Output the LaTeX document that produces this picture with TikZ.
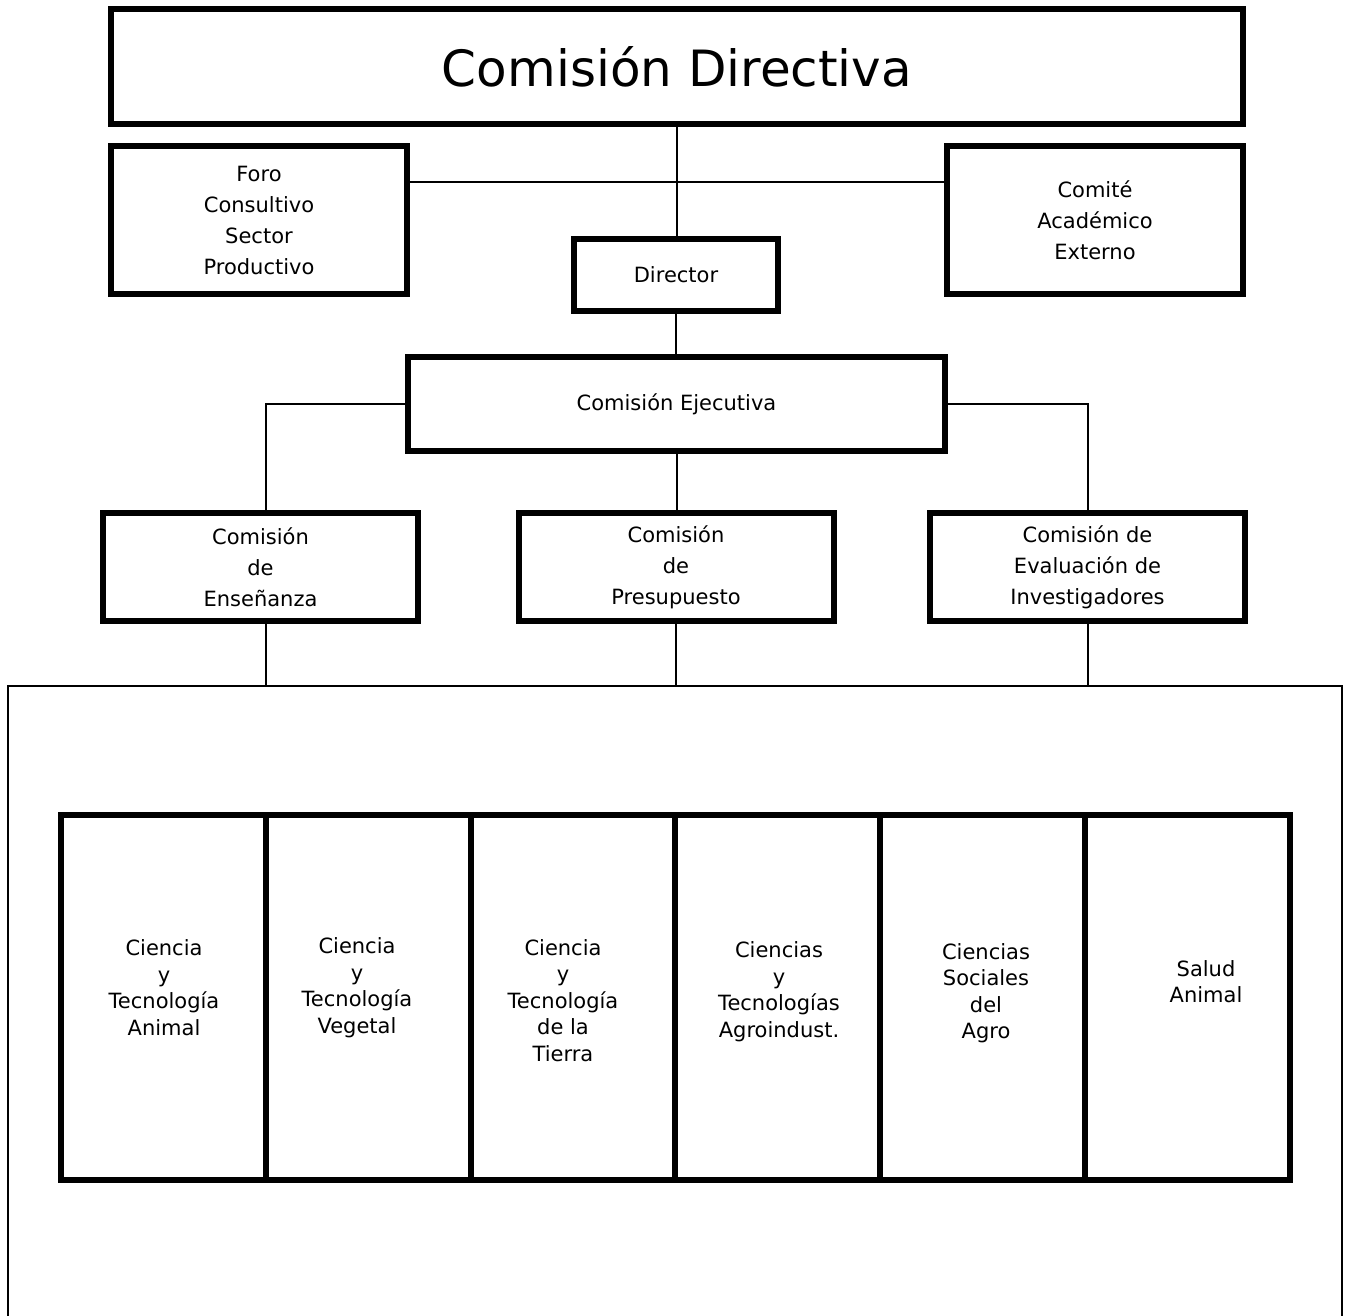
\documentclass[tikz,border=0pt]{standalone}
\usepackage{fontspec}
\setmainfont{DejaVu Sans}
\usepackage{tikz}
\tikzset{
box/.style={draw=black,line width=6pt,inner sep=0pt,align=center,font=\fontsize{21}{31}\selectfont},
conn/.style={black,line width=2pt},
area/.style={inner sep=0pt,align=center,font=\fontsize{21}{26.5}\selectfont}
}
\begin{document}
\begin{tikzpicture}[x=1pt,y=-1pt]
\useasboundingbox (0,0) rectangle (1350,1316);
\node (cd) at (677,66.5) [box][minimum width=1132pt,minimum height=115pt,font=\fontsize{50}{60}\selectfont]{Comisión Directiva};
\node (foro) at (259,220) [box][minimum width=296pt,minimum height=148pt]{Foro\\Consultivo\\Sector\\Productivo};
\node (comite) at (1095,220) [box][minimum width=296pt,minimum height=148pt]{Comité\\Académico\\Externo};
\node (dir) at (676,275) [box][minimum width=204pt,minimum height=72pt]{Director};
\node (ejec) at (676.5,404) [box][minimum width=537pt,minimum height=94pt]{Comisión Ejecutiva};
\node (ens) at (260.5,567) [box][minimum width=315pt,minimum height=108pt]{Comisión\\de\\Enseñanza};
\node (pres) at (676,567) [box][minimum width=315pt,minimum height=108pt]{Comisión\\de\\Presupuesto};
\node (eval) at (1087.5,567) [box][minimum width=315pt,minimum height=108pt]{Comisión de\\Evaluación de\\Investigadores};
\coordinate (frameNW) at (8,686);
\coordinate (frameNE) at (1342,686);
\draw [conn](8,1330)--(frameNW)--(frameNE)--(1342,1330);
\draw [conn]([yshift=38pt]foro.east)--([yshift=38pt]comite.west);
\draw [conn](cd.south)--(cd.south |- dir.north);
\draw [conn](dir.south)--(dir.south |- ejec.north);
\draw [conn](ejec.west)-|([xshift=5.5pt]ens.north);
\draw [conn](ejec.east)-|(eval.north);
\draw [conn](ejec.south)--(ejec.south |- pres.north);
\draw [conn]([xshift=5.5pt]ens.south)--([xshift=5.5pt]ens.south |- frameNW);
\draw [conn](pres.south)--(pres.south |- frameNW);
\draw [conn](eval.south)--(eval.south |- frameNW);
\foreach \i in {1,...,6}
\node (col\i) at ({61+204.8*(\i-0.5)},997.5) [box][minimum width=204.8pt,minimum height=365pt]{};
\foreach \i/\x/\y/\t in {1/164/987.5/{Ciencia\\y\\Tecnología\\Animal},2/357/987.5/{Ciencia\\y\\Tecnología\\Vegetal},3/563/1000.5/{Ciencia\\y\\Tecnología\\de la\\Tierra},4/779/991.5/{Ciencias\\y\\Tecnologías\\Agroindust.},5/986/993/{Ciencias\\Sociales\\del\\Agro},6/1206/981.5/{Salud\\Animal}}
\node (lab\i) at (\x,\y) [area]{\t};
\end{tikzpicture}
\end{document}
